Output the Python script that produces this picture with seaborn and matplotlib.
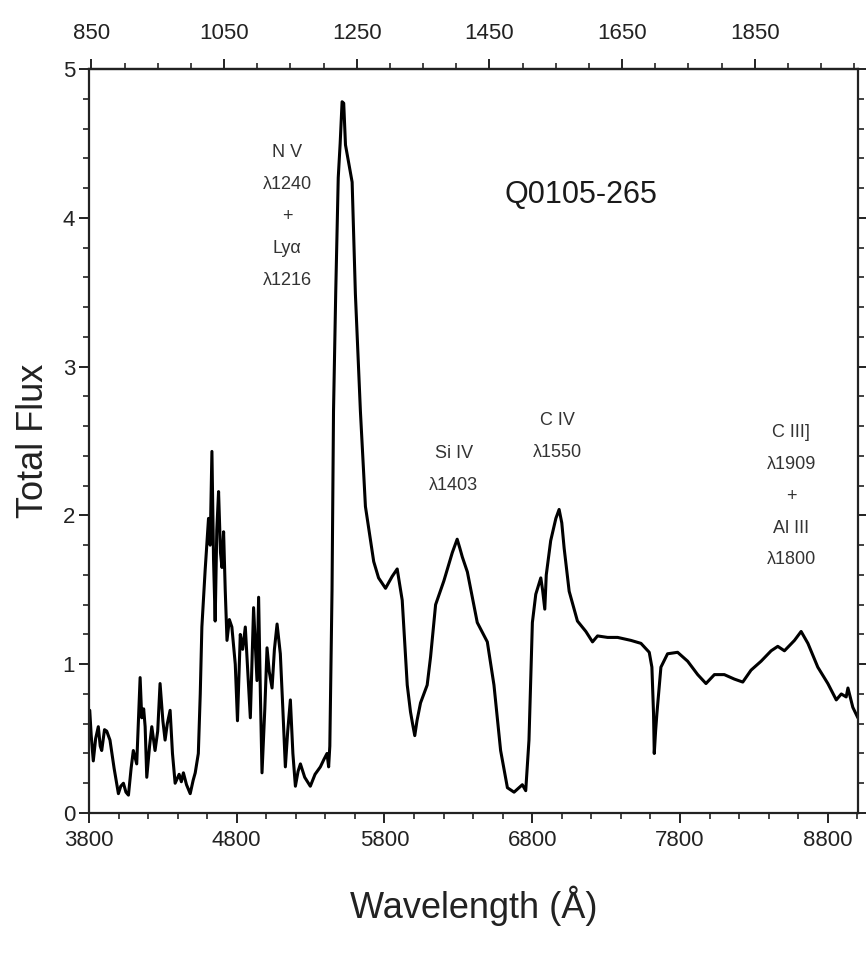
import numpy as np
import pandas as pd
import matplotlib
matplotlib.use("Agg")
import matplotlib.pyplot as plt
from matplotlib.ticker import MultipleLocator
import seaborn as sns

# ---------------- data ----------------
wavelength = [
    3805, 3815, 3829, 3845, 3863, 3876, 3886, 3905, 3920, 3942, 3970, 3999,
    4015, 4033, 4050, 4067, 4085, 4100, 4123, 4146, 4157, 4170, 4180, 4191,
    4210, 4225, 4247, 4265, 4281, 4300, 4315, 4330, 4349, 4365, 4383, 4410,
    4425, 4439, 4460, 4485, 4505, 4519, 4540, 4553, 4564, 4586, 4609, 4620,
    4632, 4643, 4654, 4665, 4677, 4690, 4700, 4711, 4722, 4734, 4750, 4767,
    4790, 4805, 4824, 4840, 4858, 4875, 4892, 4914, 4937, 4948, 4960, 4971,
    4990, 5005, 5020, 5039, 5055, 5073, 5095, 5112, 5129, 5145, 5163, 5180,
    5197, 5215, 5231, 5260, 5298, 5330, 5366, 5390, 5411, 5422, 5430, 5445,
    5455, 5470, 5487, 5500, 5513, 5524, 5536, 5581, 5603, 5637, 5671, 5680,
    5694, 5727, 5760, 5807, 5852, 5886, 5920, 5954, 5976, 5990, 6005, 6020,
    6044, 6089, 6112, 6146, 6202, 6259, 6292, 6310, 6327, 6361, 6428, 6496,
    6541, 6586, 6632, 6677, 6733, 6756, 6778, 6801, 6824, 6858, 6870, 6885,
    6895, 6925, 6960, 6982, 7000, 7016, 7050, 7106, 7163, 7208, 7242, 7310,
    7378, 7468, 7536, 7592, 7610, 7621, 7626, 7635, 7644, 7671, 7716, 7784,
    7852, 7920, 7976, 8033, 8100, 8168, 8225, 8281, 8349, 8417, 8462, 8507,
    8575, 8620, 8666, 8733, 8801, 8858, 8892, 8925, 8937, 8970, 9004,
]
flux = [
    0.69, 0.52, 0.35, 0.50, 0.58, 0.45, 0.42, 0.56, 0.55, 0.49, 0.30, 0.13,
    0.18, 0.20, 0.14, 0.12, 0.30, 0.42, 0.33, 0.91, 0.64, 0.70, 0.58, 0.24,
    0.45, 0.58, 0.42, 0.55, 0.87, 0.62, 0.49, 0.60, 0.69, 0.40, 0.20, 0.26,
    0.21, 0.27, 0.19, 0.13, 0.22, 0.27, 0.40, 0.80, 1.25, 1.63, 1.98, 1.80,
    2.43, 1.70, 1.29, 1.90, 2.16, 1.75, 1.65, 1.89, 1.50, 1.16, 1.30, 1.25,
    1.00, 0.62, 1.20, 1.10, 1.25, 0.95, 0.64, 1.38, 0.89, 1.45, 0.80, 0.27,
    0.70, 1.11, 0.95, 0.84, 1.10, 1.27, 1.07, 0.70, 0.31, 0.55, 0.76, 0.40,
    0.18, 0.28, 0.33, 0.24, 0.18, 0.26, 0.31, 0.36, 0.40, 0.31, 0.45, 1.50,
    2.70, 3.50, 4.27, 4.50, 4.78, 4.77, 4.49, 4.24, 3.49, 2.70, 2.06, 2.00,
    1.91, 1.69, 1.58, 1.51, 1.59, 1.64, 1.43, 0.86, 0.68, 0.60, 0.52, 0.62,
    0.74, 0.86, 1.05, 1.40, 1.56, 1.75, 1.84, 1.78, 1.72, 1.62, 1.28, 1.15,
    0.86, 0.42, 0.17, 0.14, 0.19, 0.15, 0.49, 1.28, 1.47, 1.58, 1.50, 1.37,
    1.60, 1.83, 1.98, 2.04, 1.95, 1.78, 1.49, 1.29, 1.22, 1.15, 1.19, 1.18,
    1.18, 1.16, 1.14, 1.08, 0.98, 0.67, 0.40, 0.55, 0.67, 0.98, 1.07, 1.08,
    1.02, 0.93, 0.87, 0.93, 0.93, 0.90, 0.88, 0.96, 1.02, 1.09, 1.12, 1.09,
    1.16, 1.22, 1.14, 0.98, 0.87, 0.76, 0.80, 0.78, 0.84, 0.71, 0.64,
]

redshift = 3.49
bottom_ticks = [3800, 4800, 5800, 6800, 7800, 8800]
top_ticks = [850, 1050, 1250, 1450, 1650, 1850]
y_ticks = [0, 1, 2, 3, 4, 5]

line_labels = [
    "N V\nλ1240\n+\nLyα\nλ1216",
    "Si IV\nλ1403",
    "C IV\nλ1550",
    "C III]\nλ1909\n+\nAl III\nλ1800",
]
label_wl = [5142, 6268, 6973, 8553]
label_flux = [4.01, 2.31, 2.53, 2.13]
title_text = "Q0105-265"

# ---------------- plotting ----------------
sns.set_theme(style="ticks")
plt.rcParams["font.family"] = ["Liberation Sans", "DejaVu Sans"]

W, H = 866, 955
fig = plt.figure(figsize=(W / 100, H / 100), dpi=100)
ax = fig.add_axes([89 / W, 1 - 813 / H, (858 - 89) / W, (813 - 69) / H])

df = pd.DataFrame({"wavelength": wavelength, "flux": flux})
sns.lineplot(data=df, x="wavelength", y="flux", ax=ax, color="black",
             linewidth=2.2, sort=False, estimator=None)

ax.set_xlim(3800, 9005)
ax.set_ylim(0, 5)
ax.set_xticks(bottom_ticks)
ax.set_xticklabels([str(t) for t in bottom_ticks])
ax.xaxis.set_minor_locator(MultipleLocator(200))
ax.set_yticks(y_ticks)
ax.set_yticklabels([str(t) for t in y_ticks])
ax.yaxis.set_minor_locator(MultipleLocator(0.2))

for s in ax.spines.values():
    s.set_linewidth(1.6)
    s.set_color("#222222")
    s.set_visible(True)

ax.tick_params(axis="both", which="major", direction="out", length=7, width=1.4,
               labelsize=16, colors="#222222")
ax.tick_params(axis="x", which="major", pad=5)
ax.tick_params(axis="y", which="major", pad=3)
ax.tick_params(axis="both", which="minor", direction="out", length=4, width=1.2,
               colors="#222222")
ax.tick_params(axis="y", which="both", right=True, labelright=False)

sec = ax.secondary_xaxis("top", functions=(lambda x: x / (1 + redshift),
                                           lambda x: x * (1 + redshift)))
sec.set_xticks(top_ticks)
sec.set_xticklabels([str(t) for t in top_ticks])
sec.xaxis.set_minor_locator(MultipleLocator(50))
sec.tick_params(which="major", direction="out", length=7, width=1.4,
                labelsize=16, colors="#222222", pad=11)
sec.tick_params(which="minor", direction="out", length=4, width=1.2, colors="#222222")
sec.spines["top"].set_linewidth(1.6)

ax.set_xlabel("Wavelength (Å)", fontsize=26, color="#222222")
ax.set_ylabel("Total Flux", fontsize=26, color="#222222")
ax.xaxis.set_label_coords(0.5, -0.097)
ax.yaxis.set_label_coords(-0.05, 0.5)

for txt, xw, yf in zip(line_labels, label_wl, label_flux):
    ax.text(xw, yf, txt, ha="center", va="center", fontsize=13,
            color="#333333", linespacing=2.15)

ax.text(7129, 4.15, title_text, ha="center", va="center", fontsize=22, color="#1a1a1a")

fig.savefig("out.png", dpi=100)
